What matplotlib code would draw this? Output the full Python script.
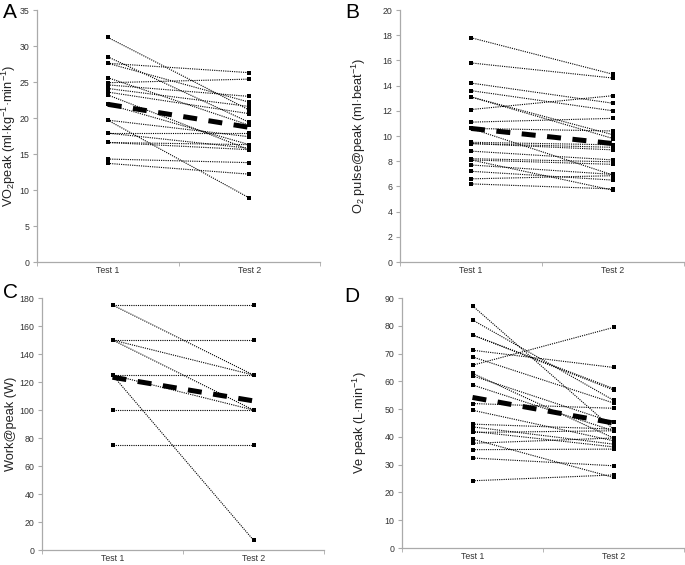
import numpy as np
import matplotlib
matplotlib.use('Agg')
import matplotlib.pyplot as plt
from matplotlib.ticker import FixedLocator

plt.rcParams['font.family'] = ['Liberation Sans', 'DejaVu Sans']
plt.rcParams['mathtext.default'] = 'regular'

# ── DADOS ─────────────────────────────────────────────────────────────────────
categorias = ['Test 1', 'Test 2']

# A - VO2peak
vo2_t1 = [31.2, 28.5, 27.6, 27.6, 25.6, 24.9, 24.6, 24.1, 23.6, 23.2, 21.9,
          19.7, 19.7, 17.9, 17.9, 16.6, 16.6, 14.3, 13.7]
vo2_t2 = [21.1, 19.4, 26.3, 22.2, 19.0, 25.4, 23.0, 21.6, 20.6, 15.6, 16.3,
          17.4, 8.9, 17.9, 15.8, 16.3, 15.6, 13.8, 12.2]
vo2_media = [21.9, 18.7]

# B - O2 pulse
o2_t1 = [17.8, 15.8, 14.2, 13.6, 13.1, 13.1, 12.1, 11.1, 10.6, 10.6, 9.5,
         9.4, 9.4, 8.8, 8.2, 8.1, 7.7, 7.2, 6.6, 6.2, 8.1]
o2_t2 = [14.9, 14.6, 12.6, 12.0, 10.1, 9.8, 13.2, 11.4, 10.4, 6.9, 9.3,
         9.1, 8.9, 8.1, 7.95, 7.75, 6.95, 6.5, 6.85, 5.8, 5.7]
o2_media = [10.6, 9.4]

# C - Work
work_t1 = [175, 175, 150, 150, 150, 125, 125, 125, 100, 75]
work_t2 = [175, 125, 150, 125, 100, 125, 100, 7, 100, 75]
work_media = [123.4, 106.5]

# D - Ve peak
ve_t1 = [87.2, 82.1, 76.7, 76.7, 71.2, 68.8, 65.8, 62.9, 62.0, 58.7, 52.0,
         49.6, 44.6, 43.6, 42.0, 41.6, 39.2, 37.7, 35.4, 32.4, 24.2]
ve_t2 = [42.8, 53.2, 57.4, 56.9, 65.0, 52.2, 79.4, 39.6, 45.2, 42.2, 50.3,
         38.6, 42.8, 37.4, 36.4, 42.2, 25.4, 39.6, 35.6, 29.6, 26.3]
ve_media = [54.2, 45.0]

# ── FIGURA ────────────────────────────────────────────────────────────────────
W, H = 685, 565
fig = plt.figure(figsize=(W / 100, H / 100), dpi=100)


def eixo(l, r, t, b):
    return fig.add_axes([l / W, 1 - b / H, (r - l) / W, (b - t) / H])


def painel(ax, t1, t2, media, ymax, ystep, ylabel, label_x):
    x = np.arange(1, len(categorias) + 1)
    for a, b in zip(t1, t2):
        ax.plot(x, [a, b], color='black', linestyle=(0, (1, 1)), linewidth=0.8,
                marker='s', markersize=2.6, markeredgewidth=0, zorder=3)
    ax.plot(x, media, color='black', linewidth=3.6, dashes=(2.8, 2.3),
            solid_capstyle='butt', zorder=4)
    ax.set_xlim(0.5, 2.5)
    ax.set_ylim(0, ymax)
    ax.set_yticks(np.arange(0, ymax + 0.01, ystep))
    ax.set_xticks(x)
    ax.set_xticklabels(categorias)
    ax.xaxis.set_minor_locator(FixedLocator([0.5, 1.5, 2.5]))
    ax.tick_params(axis='x', which='major', length=0, labelsize=6.3,
                   colors='#333333', pad=3)
    ax.tick_params(axis='x', which='minor', length=3, color='#aaaaaa')
    ax.tick_params(axis='y', length=3, color='#aaaaaa', labelsize=6.3,
                   labelcolor='#333333', pad=2.5)
    for s in ['top', 'right']:
        ax.spines[s].set_visible(False)
    for s in ['left', 'bottom']:
        ax.spines[s].set_color('#aaaaaa')
        ax.spines[s].set_linewidth(0.9)
    ax.set_ylabel(ylabel, fontsize=9.2, color='#222222')
    ax.yaxis.set_label_coords(label_x, 0.5)


axA = eixo(37, 320, 10, 262)
painel(axA, vo2_t1, vo2_t2, vo2_media, 35, 5,
       r'VO$_2$peak (ml·kg$^{-1}$·min$^{-1}$)', -0.068)
axB = eixo(400, 684, 10, 262)
painel(axB, o2_t1, o2_t2, o2_media, 20, 2,
       r'O$_2$ pulse@peak (ml·beat$^{-1}$)', -0.112)
axC = eixo(42, 324, 298, 550)
painel(axC, work_t1, work_t2, work_media, 180, 20, 'Work@peak (W)', -0.088)
axD = eixo(402, 684, 298, 548)
painel(axD, ve_t1, ve_t2, ve_media, 90, 10, r'Ve peak (L·min$^{-1}$)', -0.117)

for letra, px, py in [('A', 10, 12), ('B', 352, 12), ('C', 10, 293), ('D', 352, 297)]:
    fig.text(px / W, 1 - py / H, letra, fontsize=15, ha='center', va='center')

plt.savefig('out.png', dpi=100)
